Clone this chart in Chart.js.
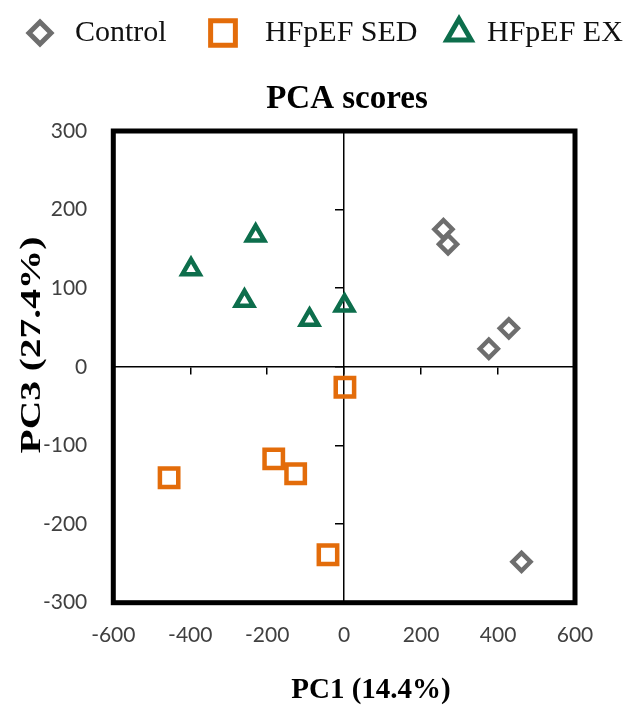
<!DOCTYPE html>
<html>
<head>
<meta charset="utf-8">
<title>PCA scores</title>
<script src="https://cdn.jsdelivr.net/npm/chart.js"></script>
<style>
  html, body { margin: 0; padding: 0; background: #ffffff; }
  #wrap { width: 634px; height: 708px; }
</style>
</head>
<body>
<div id="wrap"><canvas id="pca" width="634" height="708"></canvas></div>
<script>
// Series names and PCA score coordinates (PC1, PC3) for each group
const seriesNames = ['Control', 'HFpEF SED', 'HFpEF EX'];

const controlPC1 = [258, 270, 428, 376, 461];
const controlPC3 = [175, 156, 49, 23, -248];

const sedPC1 = [2, -183, -126, -455, -42];
const sedPC3 = [-26, -117, -136, -141, -239];

const exPC1 = [-230, -398, -259, -90, 1];
const exPC3 = [167, 124, 84, 60, 78];

// Axis tick values
const xTickValues = [-600, -400, -200, 0, 200, 400, 600];
const yTickValues = [-300, -200, -100, 0, 100, 200, 300];

// Texts
const chartTitle = 'PCA scores';
const xTitle = 'PC1 (14.4%)';
const yTitle = 'PC3 (27.4%)';

const toPoints = (xs, ys) => xs.map((x, i) => ({ x: x, y: ys[i] }));

const GRAY = '#6e6e6e';
const ORANGE = '#e36c0a';
const GREEN = '#0d6e4c';

const SERIF = '"Liberation Serif", "Times New Roman", serif';
const SANS = 'Lato, "Open Sans", sans-serif';

// Legend layout (marker centre, text start) and marker sizes for the legend
const legendLayout = [
  { mx: 40, tx: 75, r: 11 },
  { mx: 223, tx: 265, r: 17.5 },
  { mx: 459, tx: 487, r: 14 }
];
const legendY = 33;

const decor = {
  id: 'decor',
  afterDraw(chart) {
    const ctx = chart.ctx;
    const a = chart.chartArea;
    ctx.save();

    // plot frame
    ctx.lineWidth = 5;
    ctx.strokeStyle = '#000';
    ctx.lineJoin = 'miter';
    ctx.strokeRect(a.left, a.top, a.right - a.left, a.bottom - a.top);

    // chart title
    ctx.fillStyle = '#000';
    ctx.textAlign = 'center';
    ctx.textBaseline = 'alphabetic';
    ctx.font = 'bold 33px ' + SERIF;
    ctx.fillText(chartTitle, 347, 108);

    // axis titles
    ctx.font = 'bold 29px ' + SERIF;
    ctx.fillText(xTitle, 371, 698);
    ctx.save();
    ctx.translate(40, 345);
    ctx.rotate(-Math.PI / 2);
    ctx.scale(1.36, 1);
    ctx.fillText(yTitle, 0, 0);
    ctx.restore();

    // legend
    chart.data.datasets.forEach((ds, i) => {
      const L = legendLayout[i];
      ctx.save();
      ctx.strokeStyle = ds.pointBorderColor;
      ctx.fillStyle = 'rgba(0,0,0,0)';
      ctx.lineWidth = 5;
      Chart.helpers.drawPoint(ctx, {
        pointStyle: ds.pointStyle,
        rotation: 0,
        radius: L.r,
        borderWidth: 5
      }, L.mx, legendY);
      ctx.restore();
      ctx.fillStyle = '#111';
      ctx.textAlign = 'left';
      ctx.textBaseline = 'middle';
      ctx.font = '30px ' + SERIF;
      ctx.fillText(ds.label, L.tx, legendY);
    });

    ctx.restore();
  }
};

function setTicks(values) {
  return function (scale) {
    scale.ticks = values.map(v => ({ value: v }));
  };
}

function build() {
  new Chart(document.getElementById('pca'), {
    type: 'scatter',
    data: {
      datasets: [
        {
          label: seriesNames[0],
          data: toPoints(controlPC1, controlPC3),
          pointStyle: 'rectRot',
          pointRadius: 9,
          pointHoverRadius: 9,
          pointBorderWidth: 4.5,
          pointBorderColor: GRAY,
          pointBackgroundColor: 'rgba(0,0,0,0)'
        },
        {
          label: seriesNames[1],
          data: toPoints(sedPC1, sedPC3),
          pointStyle: 'rect',
          pointRadius: 13,
          pointHoverRadius: 13,
          pointBorderWidth: 4.5,
          pointBorderColor: ORANGE,
          pointBackgroundColor: 'rgba(0,0,0,0)'
        },
        {
          label: seriesNames[2],
          data: toPoints(exPC1, exPC3),
          pointStyle: 'triangle',
          pointRadius: 10,
          pointHoverRadius: 10,
          pointBorderWidth: 4.5,
          pointBorderColor: GREEN,
          pointBackgroundColor: 'rgba(0,0,0,0)'
        }
      ]
    },
    options: {
      responsive: false,
      animation: false,
      devicePixelRatio: 1,
      layout: { padding: { top: 131, right: 59, bottom: 0, left: 0 } },
      plugins: {
        legend: { display: false },
        title: { display: false },
        tooltip: { enabled: false }
      },
      scales: {
        x: {
          type: 'linear',
          position: 'bottom',
          min: -600, max: 600,
          afterBuildTicks: setTicks(xTickValues),
          afterFit: s => { s.height = 105.3; },
          grid: { display: false, drawTicks: false },
          border: { display: false },
          ticks: { color: '#404040', font: { family: SANS, size: 21 }, padding: 20, maxRotation: 0 }
        },
        y: {
          type: 'linear',
          position: 'left',
          min: -300, max: 300,
          afterBuildTicks: setTicks(yTickValues),
          afterFit: s => { s.width = 113.3; },
          grid: { display: false, drawTicks: false },
          border: { display: false },
          ticks: { color: '#404040', font: { family: SANS, size: 21 }, padding: 26 }
        },
        xZero: {
          type: 'linear',
          axis: 'x',
          position: { y: 0 },
          min: -600, max: 600,
          afterBuildTicks: setTicks(xTickValues),
          ticks: { display: false },
          grid: { drawOnChartArea: false, drawTicks: true, tickLength: 7, color: '#000', lineWidth: 1.5 },
          border: { display: true, color: '#000', width: 1.5 }
        },
        yZero: {
          type: 'linear',
          axis: 'y',
          position: { x: 0 },
          min: -300, max: 300,
          afterBuildTicks: setTicks(yTickValues),
          ticks: { display: false },
          grid: { drawOnChartArea: false, drawTicks: true, tickLength: 8, color: '#000', lineWidth: 1.5 },
          border: { display: true, color: '#000', width: 1.5 }
        }
      }
    },
    plugins: [decor]
  });
}

const fontLoads = [
  'bold 33px "Liberation Serif"',
  '30px "Liberation Serif"',
  '21px Lato'
].map(f => document.fonts.load(f).catch(() => null));
Promise.all(fontLoads).then(build, build);
</script>
</body>
</html>
